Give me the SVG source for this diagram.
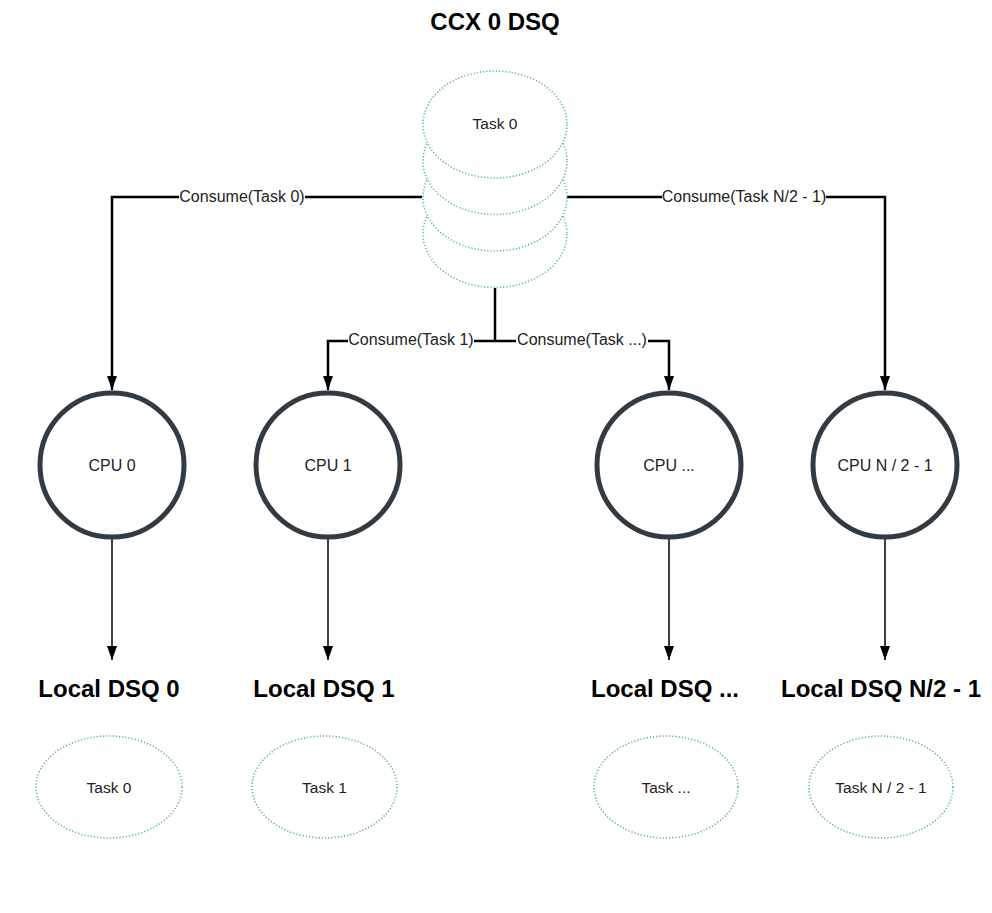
<svg xmlns="http://www.w3.org/2000/svg" width="992" height="913" viewBox="0 0 992 913">
<defs>
<style>
.dq{fill:#fff;stroke:#5cb3a4;stroke-width:1.6;stroke-dasharray:1.2 2}
.cpu{fill:#fff;stroke:#333b42;stroke-width:5}
.t{font-family:"Liberation Sans",Arial,sans-serif;font-size:15.5px;fill:#222;text-anchor:middle;dominant-baseline:central}
.tc{font-family:"Liberation Sans",Arial,sans-serif;font-size:16px;fill:#222;text-anchor:middle;dominant-baseline:central}
.h{font-family:"Liberation Sans",Arial,sans-serif;font-size:24px;font-weight:bold;fill:#000;text-anchor:middle}
.c{fill:none;stroke:#000;stroke-width:2.5}
.c2{fill:none;stroke:#000;stroke-width:1.5}
.bg{fill:#fff}
.lbl{font-family:"Liberation Sans",Arial,sans-serif;font-size:16px;fill:#222;text-anchor:middle;dominant-baseline:central}
</style>
<marker id="arr" viewBox="0 0 14 10" refX="14" refY="5" markerWidth="14" markerHeight="10" markerUnits="userSpaceOnUse" orient="auto">
<path d="M0,0 L14,5 L0,10 z" fill="#000"/>
</marker>
</defs>
<rect width="992" height="913" fill="#fff"/>
<text class="h" x="495" y="30">CCX 0 DSQ</text>
<g id="connectors">
<path class="c" d="M422,197 H112 V390" marker-end="url(#arr)"/>
<path class="c" d="M567,197 H885 V390" marker-end="url(#arr)"/>
<path class="c" d="M495,288 V341"/>
<path class="c" d="M495,341 H328 V390" marker-end="url(#arr)"/>
<path class="c" d="M495,341 H669 V390" marker-end="url(#arr)"/>
<path class="c2" d="M112,538 V660" marker-end="url(#arr)"/>
<path class="c2" d="M328,538 V660" marker-end="url(#arr)"/>
<path class="c2" d="M669,538 V660" marker-end="url(#arr)"/>
<path class="c2" d="M885,538 V660" marker-end="url(#arr)"/>
<rect class="bg" x="179" y="188" width="126" height="18"/>
<text class="lbl" x="242" y="196">Consume(Task 0)</text>
<rect class="bg" x="662" y="188" width="164" height="18"/>
<text class="lbl" x="744" y="196">Consume(Task N/2 - 1)</text>
<rect class="bg" x="348" y="332" width="126" height="18"/>
<text class="lbl" x="411" y="339">Consume(Task 1)</text>
<rect class="bg" x="516" y="332" width="132" height="18"/>
<text class="lbl" x="582" y="339">Consume(Task ...)</text>
</g>
<g id="ccx-dsq">
<ellipse class="dq" cx="495" cy="234" rx="72" ry="53.5"/>
<ellipse class="dq" cx="495" cy="197.5" rx="72" ry="53.5"/>
<ellipse class="dq" cx="495" cy="161" rx="72" ry="53.5"/>
<ellipse class="dq" cx="495" cy="124.5" rx="72" ry="53.5"/>
<text class="t" x="495" y="123">Task 0</text>
</g>
<g id="cpu0"><circle class="cpu" cx="112" cy="465" r="72"/><text class="tc" x="112" y="465">CPU 0</text></g>
<g id="cpu1"><circle class="cpu" cx="328" cy="465" r="72"/><text class="tc" x="328" y="465">CPU 1</text></g>
<g id="cpuX"><circle class="cpu" cx="669" cy="465" r="72"/><text class="tc" x="669" y="465">CPU ...</text></g>
<g id="cpuN"><circle class="cpu" cx="885" cy="465" r="72"/><text class="tc" x="885" y="465">CPU N / 2 - 1</text></g>
<g id="ldsq0"><text class="h" x="109" y="697">Local DSQ 0</text><ellipse class="dq" cx="109" cy="787" rx="73" ry="51"/><text class="t" x="109" y="787">Task 0</text></g>
<g id="ldsq1"><text class="h" x="324" y="697">Local DSQ 1</text><ellipse class="dq" cx="324.5" cy="787" rx="72.5" ry="51"/><text class="t" x="324.5" y="787">Task 1</text></g>
<g id="ldsqX"><text class="h" x="665" y="697">Local DSQ ...</text><ellipse class="dq" cx="666" cy="787" rx="72" ry="51"/><text class="t" x="666" y="787">Task ...</text></g>
<g id="ldsqN"><text class="h" x="881" y="697">Local DSQ N/2 - 1</text><ellipse class="dq" cx="881" cy="787" rx="72" ry="51"/><text class="t" x="881" y="787">Task N / 2 - 1</text></g>
</svg>
